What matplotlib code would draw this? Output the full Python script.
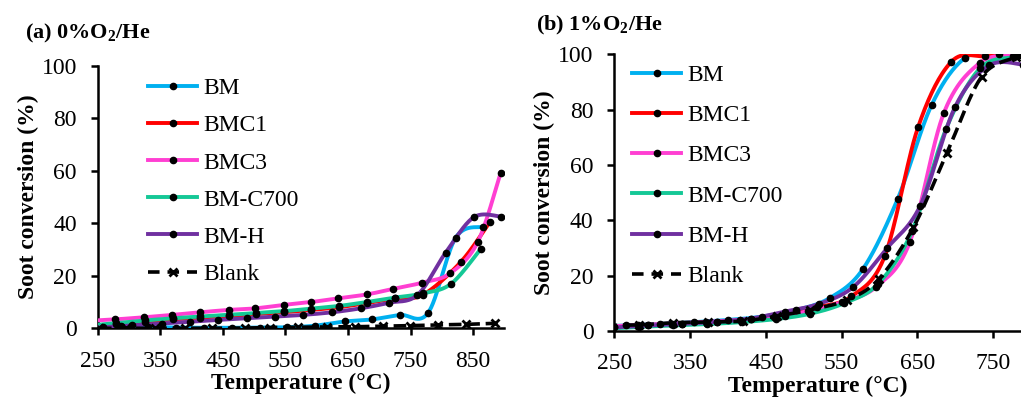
import numpy as np
import matplotlib
matplotlib.use("Agg")
import matplotlib.pyplot as plt

plt.rcParams['font.family'] = ['Liberation Serif', 'DejaVu Serif']
plt.rcParams['mathtext.fontset'] = 'custom'
plt.rcParams['mathtext.rm'] = 'Liberation Serif'
plt.rcParams['mathtext.bf'] = 'Liberation Serif:bold'

labels = ["BM", "BMC1", "BMC3", "BM-C700", "BM-H", "Blank"]
colors = ["#00B0F0", "#FF0000", "#FF3FD2", "#14C896", "#7030A0", "black"]

# (a) 0% O2/He  -- temperature (C), conversion (%)
t_a_bm = [242, 287, 330, 375, 420, 465, 509, 553, 597, 645, 689, 733, 778, 822, 866]
y_a_bm = [1.0, 0.8, 0.5, 0.3, 0.2, 0.2, 0.3, 0.4, 1.0, 2.6, 3.4, 5.1, 5.9, 34.5, 38.7]
t_a_bmc1 = [234, 280, 326, 370, 414, 459, 503, 547, 591, 635, 680, 725, 770, 830, 877]
y_a_bmc1 = [0.5, 1.5, 2.5, 3.4, 4.1, 4.7, 5.4, 6.1, 7.0, 8.0, 9.6, 11.4, 12.8, 25.2, 40.6]
t_a_bmc3 = [234, 278, 324, 369, 414, 459, 502, 547, 591, 634, 680, 722, 769, 813, 857, 894]
y_a_bmc3 = [2.8, 3.4, 4.2, 5.1, 6.1, 7.0, 7.6, 8.9, 10.0, 11.4, 12.9, 15.0, 17.4, 20.9, 32.7, 59.3]
t_a_c700 = [234, 280, 326, 370, 414, 459, 503, 547, 591, 635, 680, 725, 770, 815, 862]
y_a_c700 = [1.0, 2.0, 3.0, 3.8, 4.5, 5.1, 5.8, 6.5, 7.5, 8.5, 10.0, 11.7, 13.3, 17.0, 30.2]
t_a_bmh = [214, 259, 304, 352, 397, 443, 488, 533, 578, 625, 670, 715, 761, 806, 851, 895]
y_a_bmh = [0.0, 0.4, 1.1, 1.8, 2.5, 3.2, 3.8, 4.4, 5.1, 6.1, 7.6, 9.7, 12.7, 28.8, 42.3, 42.5]
t_a_blank = [252, 296, 341, 389, 432, 485, 525, 570, 616, 661, 706, 749, 794, 839, 885]
y_a_blank = [0.0, 0.0, 0.0, 0.0, 0.0, 0.1, 0.3, 0.4, 0.5, 0.6, 0.8, 1.0, 1.3, 1.5, 1.9]

# (b) 1% O2/He
t_b_bm = [220, 265, 310, 355, 400, 445, 490, 535, 578, 624, 669, 713, 758, 800]
y_b_bm = [1.5, 2.0, 2.5, 3.2, 4.0, 5.2, 7.5, 12.0, 22.3, 47.6, 81.7, 98.7, 100.0, 100.0]
t_b_bmc1 = [205, 250, 295, 340, 385, 430, 475, 518, 563, 607, 651, 695, 740, 785]
y_b_bmc1 = [1.2, 1.6, 2.2, 2.7, 3.3, 4.2, 5.5, 8.5, 12.5, 27.0, 73.6, 97.3, 99.3, 99.8]
t_b_bmc3 = [236, 281, 326, 371, 416, 461, 506, 551, 596, 640, 685, 733, 777]
y_b_bmc3 = [1.6, 2.1, 2.7, 3.3, 4.0, 5.2, 7.2, 10.5, 16.0, 32.0, 78.7, 97.0, 99.5]
t_b_c700 = [238, 283, 328, 373, 418, 463, 508, 553, 598, 643, 688, 733, 778]
y_b_c700 = [0.8, 1.5, 2.0, 2.5, 3.2, 4.3, 6.2, 10.0, 17.0, 36.0, 73.0, 95.0, 99.0]
t_b_bmh = [250, 295, 340, 385, 430, 475, 520, 565, 610, 654, 700, 745, 790]
y_b_bmh = [1.3, 2.0, 2.6, 3.3, 4.5, 7.0, 9.8, 15.8, 29.9, 45.3, 81.0, 96.0, 96.3]
t_b_blank = [237, 282, 328, 374, 420, 465, 508, 557, 599, 645, 689, 735, 781]
y_b_blank = [2.0, 2.2, 3.0, 3.2, 3.6, 5.4, 7.6, 11.2, 18.7, 37.5, 64.2, 91.9, 99.0]

panel_a = [(t_a_bm, y_a_bm), (t_a_bmc1, y_a_bmc1), (t_a_bmc3, y_a_bmc3),
           (t_a_c700, y_a_c700), (t_a_bmh, y_a_bmh), (t_a_blank, y_a_blank)]
panel_b = [(t_b_bm, y_b_bm), (t_b_bmc1, y_b_bmc1), (t_b_bmc3, y_b_bmc3),
           (t_b_c700, y_b_c700), (t_b_bmh, y_b_bmh), (t_b_blank, y_b_blank)]


def smooth(x, y, n=30):
    # excel-like smoothed line: bezier segments with 1/6 neighbour tangents
    p = np.column_stack([x, y]).astype(float)
    pts = []
    for i in range(len(p) - 1):
        p0 = p[i - 1] if i > 0 else p[i]
        p3 = p[i + 2] if i + 2 < len(p) else p[i + 1]
        c1 = p[i] + (p[i + 1] - p0) / 6
        c2 = p[i + 1] - (p3 - p[i]) / 6
        s = np.linspace(0, 1, n)[:, None]
        seg = ((1 - s) ** 3 * p[i] + 3 * (1 - s) ** 2 * s * c1
               + 3 * (1 - s) * s ** 2 * c2 + s ** 3 * p[i + 1])
        pts.append(seg)
    pts = np.vstack(pts)
    return pts[:, 0], pts[:, 1]


def draw(ax, data, xmax):
    for (t, y), lab, col in zip(data, labels, colors):
        xs, ys = smooth(t, y)
        if lab == "Blank":
            ax.plot(xs, ys, color=col, lw=2.6, ls=(0, (3.5, 1.6)), zorder=4)
            ax.plot(t, y, ls="none", marker="x", ms=5.5, mew=2, color=col, zorder=5)
            ax.plot([], [], color=col, lw=2.6, ls=(0, (3.2, 2.2)), marker="x",
                    ms=5.5, mew=2, label=lab)
        else:
            ax.plot(xs, ys, color=col, lw=2.8, zorder=3)
            ax.plot(t, y, ls="none", marker="o", ms=4.5, color="black", zorder=5)
            ax.plot([], [], color=col, lw=2.8, marker="o", ms=4.5,
                    mfc="black", mec="black", label=lab)
    ax.set_xlim(250, xmax)
    ax.set_ylim(0, 100)
    ax.set_xticks([250, 350, 450, 550, 650, 750, 850][:7 if xmax > 850 else 6])
    ax.set_yticks([0, 20, 40, 60, 80, 100])
    for s in ["top", "right"]:
        ax.spines[s].set_visible(False)
    for s in ["left", "bottom"]:
        ax.spines[s].set_linewidth(1.8)
    ax.tick_params(direction="out", length=5, width=1.8, labelsize=17)
    ax.tick_params(axis="x", pad=11)
    ax.tick_params(axis="y", pad=10)
    ax.set_xlabel("Temperature (°C)", fontsize=17, fontweight="bold", labelpad=1)
    ax.set_ylabel("Soot conversion (%)", fontsize=17, fontweight="bold", labelpad=2)


fig = plt.figure(figsize=(10.21, 4.05), dpi=100)
ax1 = fig.add_axes([0.0957, 0.1894, 0.3984, 0.6484])
ax2 = fig.add_axes([0.6017, 0.1827, 0.3983, 0.6832])

draw(ax1, panel_a, 900)
draw(ax2, panel_b, 787)

ax1.legend(loc="upper left", bbox_to_anchor=(0.1, 0.99), frameon=False,
           fontsize=17, handlelength=2.1, handletextpad=0.25, labelspacing=0.66,
           borderaxespad=0)
ax2.legend(loc="upper left", bbox_to_anchor=(0.02, 0.997), frameon=False,
           fontsize=17, handlelength=2.1, handletextpad=0.25, labelspacing=0.79,
           borderaxespad=0)

fig.text(25 / 1021, 1 - 33 / 405, r"(a) 0%O$_\mathbf{2}$/He", fontsize=16,
         fontweight="bold", va="center", ha="left")
fig.text(536 / 1021, 1 - 25 / 405, r"(b) 1%O$_\mathbf{2}$/He", fontsize=16,
         fontweight="bold", va="center", ha="left")

fig.savefig("out.png", dpi=100)
